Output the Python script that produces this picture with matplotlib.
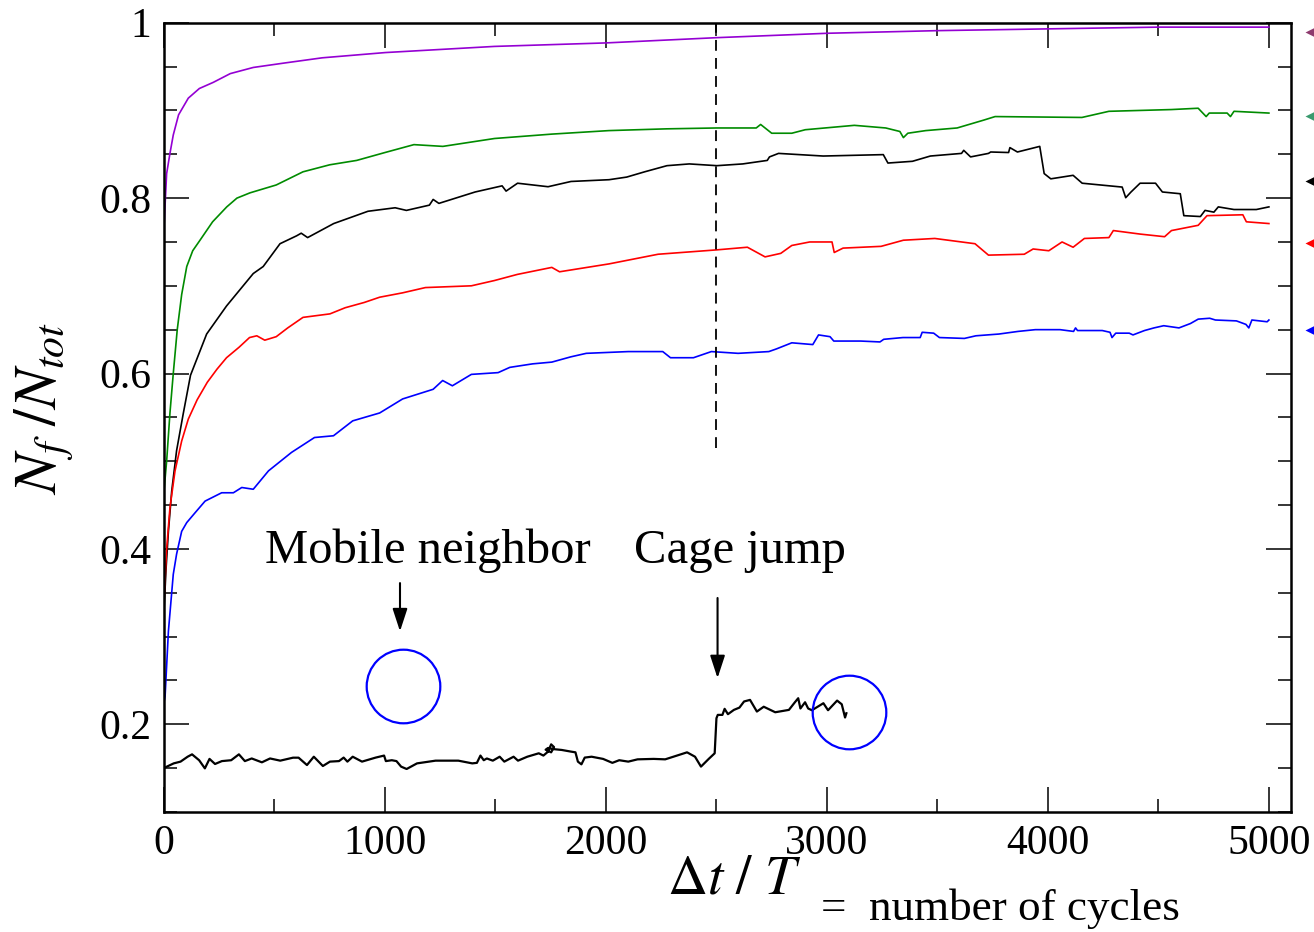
import matplotlib
matplotlib.use("Agg")
import matplotlib.pyplot as plt
from matplotlib.ticker import MultipleLocator

plt.rcParams['font.family'] = ['Liberation Serif', 'DejaVu Serif']
plt.rcParams['mathtext.fontset'] = 'stix'

# fraction of frozen particles vs number of cycles, one curve per amplitude
purple_x = [0, 12, 27, 42, 66, 110, 160, 223, 300, 404, 543, 716, 1002, 1495, 2001, 2503,
            3003, 3502, 4000, 4500, 5000]
purple_y = [0.767, 0.828, 0.851, 0.872, 0.895, 0.914, 0.925, 0.932, 0.942, 0.949, 0.954, 0.960,
            0.966, 0.973, 0.977, 0.983, 0.988, 0.991, 0.993, 0.995, 0.995]

green_x = [0, 12, 27, 42, 60, 80, 103, 130, 163, 220, 284, 330, 389, 508, 629, 750, 872, 1000,
           1131, 1262, 1496, 1755, 2013, 2274, 2502, 2680, 2700, 2750, 2841, 2902, 3124, 3266,
           3330, 3346, 3366, 3447, 3589, 3710, 3761, 4154, 4276, 4559, 4680, 4716, 4730, 4811,
           4826, 4842, 5000]
green_y = [0.466, 0.500, 0.555, 0.600, 0.650, 0.690, 0.722, 0.740, 0.752, 0.773, 0.790, 0.800,
           0.806, 0.815, 0.830, 0.838, 0.843, 0.852, 0.861, 0.859, 0.868, 0.873, 0.877, 0.879,
           0.880, 0.880, 0.884, 0.874, 0.874, 0.878, 0.883, 0.880, 0.876, 0.869, 0.874, 0.877,
           0.880, 0.889, 0.893, 0.892, 0.899, 0.901, 0.9025, 0.893, 0.897, 0.897, 0.893, 0.899,
           0.897]

black_x = [0, 10, 20, 35, 57, 87, 120, 193, 283, 404, 449, 525, 600, 621, 650, 768, 923, 1046,
           1097, 1201, 1218, 1244, 1408, 1530, 1548, 1600, 1738, 1842, 2014, 2094, 2175, 2276,
           2377, 2502, 2619, 2730, 2740, 2781, 2983, 3255, 3276, 3387, 3468, 3609, 3619, 3650,
           3731, 3741, 3822, 3828, 3862, 3963, 3983, 4013, 4114, 4155, 4336, 4352, 4376, 4417,
           4487, 4518, 4599, 4615, 4690, 4711, 4751, 4771, 4842, 4943, 5000]
black_y = [0.330, 0.380, 0.420, 0.466, 0.512, 0.554, 0.598, 0.645, 0.677, 0.714, 0.722, 0.748,
           0.757, 0.760, 0.755, 0.771, 0.785, 0.789, 0.786, 0.792, 0.7985, 0.794, 0.807, 0.814,
           0.808, 0.817, 0.813, 0.819, 0.821, 0.824, 0.830, 0.837, 0.839, 0.837, 0.839, 0.843,
           0.847, 0.851, 0.848, 0.8496, 0.840, 0.842, 0.848, 0.851, 0.8545, 0.847, 0.851, 0.8526,
           0.852, 0.8576, 0.8526, 0.859, 0.828, 0.822, 0.826, 0.817, 0.8126, 0.8005, 0.807,
           0.817, 0.817, 0.807, 0.805, 0.780, 0.779, 0.786, 0.784, 0.790, 0.787, 0.787, 0.790]

red_x = [0, 12, 27, 50, 80, 110, 150, 196, 240, 283, 340, 387, 420, 456, 508, 560, 629, 751,
         820, 906, 976, 1080, 1183, 1391, 1495, 1599, 1755, 1790, 2014, 2236, 2502, 2640, 2720,
         2791, 2841, 2922, 3023, 3033, 3073, 3245, 3346, 3488, 3670, 3731, 3893, 3933, 4004,
         4064, 4114, 4165, 4276, 4296, 4417, 4528, 4559, 4680, 4720, 4882, 4898, 5000]
red_y = [0.340, 0.400, 0.447, 0.489, 0.523, 0.548, 0.570, 0.590, 0.605, 0.618, 0.630, 0.641,
         0.643, 0.638, 0.642, 0.652, 0.664, 0.668, 0.675, 0.681, 0.687, 0.692, 0.698, 0.700,
         0.706, 0.713, 0.721, 0.716, 0.725, 0.736, 0.741, 0.744, 0.733, 0.737, 0.746, 0.750,
         0.750, 0.738, 0.743, 0.745, 0.752, 0.754, 0.748, 0.735, 0.736, 0.742, 0.740, 0.750,
         0.744, 0.754, 0.755, 0.763, 0.759, 0.756, 0.763, 0.769, 0.780, 0.781, 0.773, 0.771]

blue_x = [0, 5, 20, 42, 57, 80, 103, 140, 186, 261, 314, 352, 404, 473, 577, 681, 767, 854, 976,
          1080, 1218, 1261, 1305, 1391, 1512, 1565, 1668, 1755, 1841, 1911, 2101, 2257, 2292,
          2396, 2477, 2598, 2737, 2771, 2841, 2936, 2962, 3014, 3031, 3153, 3240, 3257, 3344,
          3422, 3431, 3483, 3509, 3622, 3674, 3778, 3865, 3943, 4055, 4116, 4125, 4134, 4246,
          4281, 4290, 4307, 4368, 4385, 4437, 4480, 4524, 4593, 4645, 4680, 4732, 4758, 4853,
          4896, 4909, 4923, 4992, 5000]
blue_y = [0.225, 0.232, 0.306, 0.371, 0.394, 0.420, 0.430, 0.441, 0.4545, 0.464, 0.464, 0.470,
          0.468, 0.489, 0.510, 0.527, 0.529, 0.546, 0.555, 0.571, 0.582, 0.592, 0.586, 0.599,
          0.601, 0.607, 0.611, 0.613, 0.619, 0.623, 0.625, 0.625, 0.618, 0.618, 0.625, 0.623,
          0.625, 0.628, 0.635, 0.633, 0.644, 0.642, 0.637, 0.637, 0.636, 0.639, 0.641, 0.641,
          0.647, 0.646, 0.641, 0.640, 0.643, 0.645, 0.648, 0.650, 0.650, 0.648, 0.652, 0.649,
          0.649, 0.647, 0.641, 0.646, 0.646, 0.644, 0.649, 0.652, 0.6545, 0.652, 0.657, 0.662,
          0.663, 0.661, 0.660, 0.656, 0.652, 0.661, 0.659, 0.661]

# trajectory of a single particle (drawn in the lower part of the frame)
traj_x = [3, 44, 75, 107, 127, 159, 185, 206, 231, 262, 304, 339, 366, 397, 443, 480, 526, 584,
          609, 647, 678, 719, 751, 792, 813, 830, 854, 896, 958, 996, 1004, 1031, 1052, 1073,
          1098, 1145, 1229, 1332, 1395, 1416, 1432, 1447, 1461, 1488, 1519, 1540, 1582, 1602,
          1644, 1696, 1717, 1738, 1752, 1765, 1752, 1727, 1738, 1765, 1800, 1842, 1862, 1873,
          1889, 1904, 1935, 1987, 2029, 2060, 2101, 2143, 2216, 2268, 2330, 2367, 2403, 2430,
          2465, 2492, 2500, 2506, 2527, 2537, 2552, 2579, 2604, 2625, 2652, 2683, 2714, 2766,
          2828, 2855, 2870, 2880, 2901, 2915, 2932, 2984, 3005, 3046, 3067, 3082, 3088]
traj_y = [0.1505, 0.1554, 0.1574, 0.163, 0.1657, 0.159, 0.1497, 0.1605, 0.1547, 0.158, 0.159,
          0.1657, 0.158, 0.161, 0.1566, 0.161, 0.1585, 0.1619, 0.1619, 0.1535, 0.163, 0.1524,
          0.1574, 0.158, 0.162, 0.1574, 0.163, 0.1574, 0.162, 0.1643, 0.158, 0.159, 0.158,
          0.1517, 0.149, 0.1554, 0.1585, 0.1585, 0.1554, 0.156, 0.1643, 0.159, 0.161, 0.1585,
          0.163, 0.1574, 0.163, 0.1585, 0.163, 0.1669, 0.1643, 0.1688, 0.1771, 0.174, 0.168,
          0.171, 0.173, 0.1716, 0.1707, 0.1688, 0.168, 0.1574, 0.1543, 0.162, 0.163, 0.1605,
          0.156, 0.159, 0.1574, 0.160, 0.1605, 0.160, 0.165, 0.168, 0.163, 0.1517, 0.1605,
          0.1669, 0.2069, 0.2107, 0.2107, 0.2176, 0.2115, 0.2164, 0.219, 0.226, 0.2278, 0.2145,
          0.220, 0.2137, 0.2164, 0.2251, 0.2297, 0.218, 0.2251, 0.218, 0.216, 0.224, 0.216,
          0.227, 0.2228, 0.2077, 0.2126]

# asymptotic values marked outside the right edge
limit_y = [0.989, 0.894, 0.819, 0.749, 0.650]
limit_colors = ['#8e3a6e', '#3a9a6e', 'black', 'red', 'blue']

circle_x = [1080, 3102]
circle_y = [0.2435, 0.2137]

xticks = [0, 1000, 2000, 3000, 4000, 5000]
xtick_labels = ['0', '1000', '2000', '3000', '4000', '5000']
yticks = [0.2, 0.4, 0.6, 0.8, 1.0]
ytick_labels = ['0.2', '0.4', '0.6', '0.8', '1']

fig = plt.figure(figsize=(13.14, 9.32), dpi=100)
ax = fig.add_axes([0.1248, 0.1288, 0.8577, 0.8468])

lw = 1.2
ax.plot(purple_x, purple_y, color='#9400d3', lw=lw)
ax.plot(green_x, green_y, color='#008b00', lw=lw)
ax.plot(black_x, black_y, color='black', lw=lw)
ax.plot(red_x, red_y, color='red', lw=lw)
ax.plot(blue_x, blue_y, color='blue', lw=lw)

ax.plot(traj_x, traj_y, color='black', lw=1.6)
ax.plot(circle_x, circle_y, 'o', ms=53, mfc='none', mec='blue', mew=1.6)

ax.plot([2500, 2500], [0.515, 1.0], color='black', lw=1.3, ls=(0, (6, 4)))

for yv, c in zip(limit_y, limit_colors):
    ax.plot([5186], [yv], marker='<', ms=7, color=c, mec='none', clip_on=False)

ax.text(1195, 0.3834, 'Mobile neighbor', fontsize=35, ha='center', va='baseline')
ax.text(2606, 0.3834, 'Cage jump', fontsize=35, ha='center', va='baseline')

head = '-|>,head_length=0.55,head_width=0.18'
ax.annotate('', xy=(1068, 0.306), xytext=(1068, 0.361),
            arrowprops=dict(arrowstyle=head, color='black', lw=1.5, mutation_scale=25,
                            shrinkA=0, shrinkB=0))
ax.annotate('', xy=(2505, 0.2526), xytext=(2505, 0.344),
            arrowprops=dict(arrowstyle=head, color='black', lw=1.5, mutation_scale=25,
                            shrinkA=0, shrinkB=0))

ax.set_xlim(0, 5100)
ax.set_ylim(0.1, 1.0)
ax.set_xticks(xticks)
ax.set_xticklabels(xtick_labels)
ax.set_yticks(yticks)
ax.set_yticklabels(ytick_labels)
ax.xaxis.set_minor_locator(MultipleLocator(500))
ax.yaxis.set_minor_locator(MultipleLocator(0.05))
ax.tick_params(which='both', direction='in', top=True, right=True, width=1.1, labelsize=30)
ax.tick_params(which='major', length=18)
ax.tick_params(which='minor', length=9.5)
ax.tick_params(axis='x', pad=9)
ax.tick_params(axis='y', pad=9)
for s in ax.spines.values():
    s.set_linewidth(1.8)

fig.text(0.034, 0.562, r'$N_f\ /N_{tot}$', rotation=90, fontsize=43, ha='center', va='center')
fig.text(0.5076, 0.0418, r'$\Delta t\ /\ T$', fontsize=40, ha='left', va='baseline')
fig.text(0.6245, 0.0129, '=  number of cycles', fontsize=32.5, ha='left', va='baseline')

fig.savefig('out.png', dpi=100)
